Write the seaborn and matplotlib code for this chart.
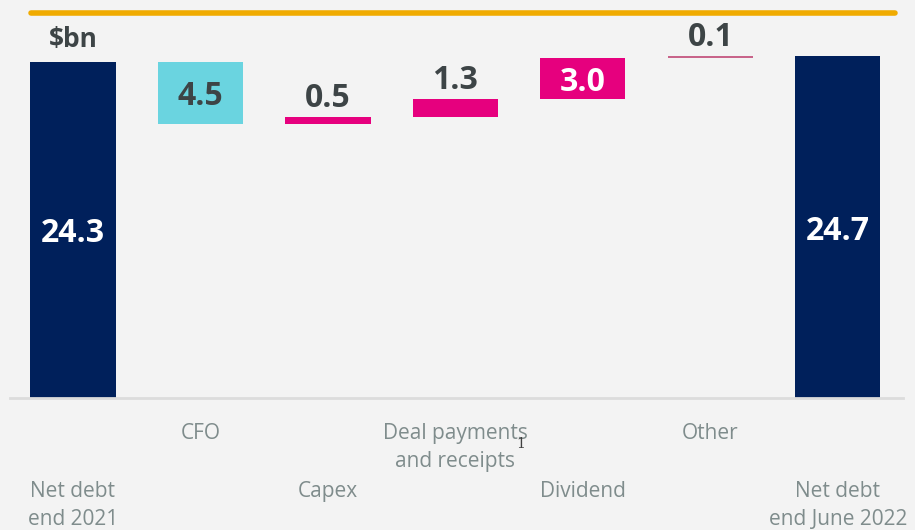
import numpy as np
import seaborn as sns
import matplotlib.pyplot as plt

# waterfall data ($bn)
categories = ["Net debt\nend 2021", "CFO", "Capex", "Deal payments\nand receipts",
              "Dividend", "Other", "Net debt\nend June 2022"]
changes = [24.3, -4.5, 0.5, 1.3, 3.0, 0.1, 24.7]
value_labels = ["24.3", "4.5", "0.5", "1.3", "3.0", "0.1", "24.7"]
kinds = ["total", "down", "up", "up", "up", "up", "total"]

# bottoms / heights of the floating bars
bottoms, heights = [], []
running = 0.0
for c, k in zip(changes, kinds):
    if k == "total":
        bottoms.append(0.0)
        heights.append(c)
        running = c
    elif c < 0:
        bottoms.append(running + c)
        heights.append(-c)
        running += c
    else:
        bottoms.append(running)
        heights.append(c)
        running += c

navy, cyan, pink = "#00205b", "#6ad4e0", "#e6007e"
colors = [navy, cyan, pink, pink, pink, "#c8648a", navy]
label_colors = ["white", "#3d4446", "#3d4446", "#3d4446", "white", "#3d4446", "white"]
label_pos = ["mid", "mid", "above", "above", "mid", "above", "mid"]

sns.set_theme(style="white")
plt.rcParams["font.family"] = ["Open Sans", "DejaVu Sans"]

bg = "#f3f3f3"
fig = plt.figure(figsize=(9.15, 5.3), dpi=100, facecolor=bg)
ax = fig.add_axes([10 / 915, 132 / 530, 893 / 915, 386 / 530], facecolor=bg)

x = np.arange(len(categories))
sns.barplot(x=x, y=heights, color=navy, width=0.667, saturation=1, ax=ax)
for patch, b, c in zip(ax.patches, bottoms, colors):
    patch.set_y(b)
    patch.set_facecolor(c)
    patch.set_edgecolor("none")

ax.set_xlim(-0.494, 6.51)
ax.set_ylim(0, 27.9)
ax.set_xticks([])
ax.set_yticks([])
ax.set_xlabel("")
ax.set_ylabel("")
for s in ["top", "left", "right"]:
    ax.spines[s].set_visible(False)
ax.spines["bottom"].set_color("#dcdcdc")
ax.spines["bottom"].set_linewidth(2)

# value labels
for i in range(len(categories)):
    top = bottoms[i] + heights[i]
    if label_pos[i] == "mid":
        ax.text(i, bottoms[i] + heights[i] / 2, value_labels[i], ha="center",
                va="center_baseline", color=label_colors[i], fontsize=23, fontweight="bold")
    else:
        ax.annotate(value_labels[i], xy=(i, top), xytext=(0, 10), textcoords="offset pixels",
                    ha="center", va="baseline", color=label_colors[i], fontsize=23,
                    fontweight="bold")

ax.annotate("$bn", xy=(0, heights[0]), xytext=(0, 15), textcoords="offset pixels",
            ha="center", va="baseline", color="#3d4446", fontsize=19, fontweight="bold")

# category labels, staggered in two rows
for i, lab in enumerate(categories):
    pad = 25 if i % 2 == 1 else 83
    ax.annotate(lab, xy=(i, 0), xycoords=("data", "axes fraction"), xytext=(0, -pad),
                textcoords="offset pixels", ha="center", va="top", color="#7f8c8c",
                fontsize=15, linespacing=1.45, annotation_clip=False)

# orange rule at the top
fig.add_artist(plt.Line2D([31 / 915, 895 / 915], [517.5 / 530, 517.5 / 530],
                          color="#f0ab00", lw=4, transform=fig.transFigure))

fig.text(521 / 915, 1 - 444 / 530, "1", ha="center", va="center", fontsize=10,
         color="#404040", family="DejaVu Serif")

fig.savefig("out.png", dpi=100, facecolor=bg)
